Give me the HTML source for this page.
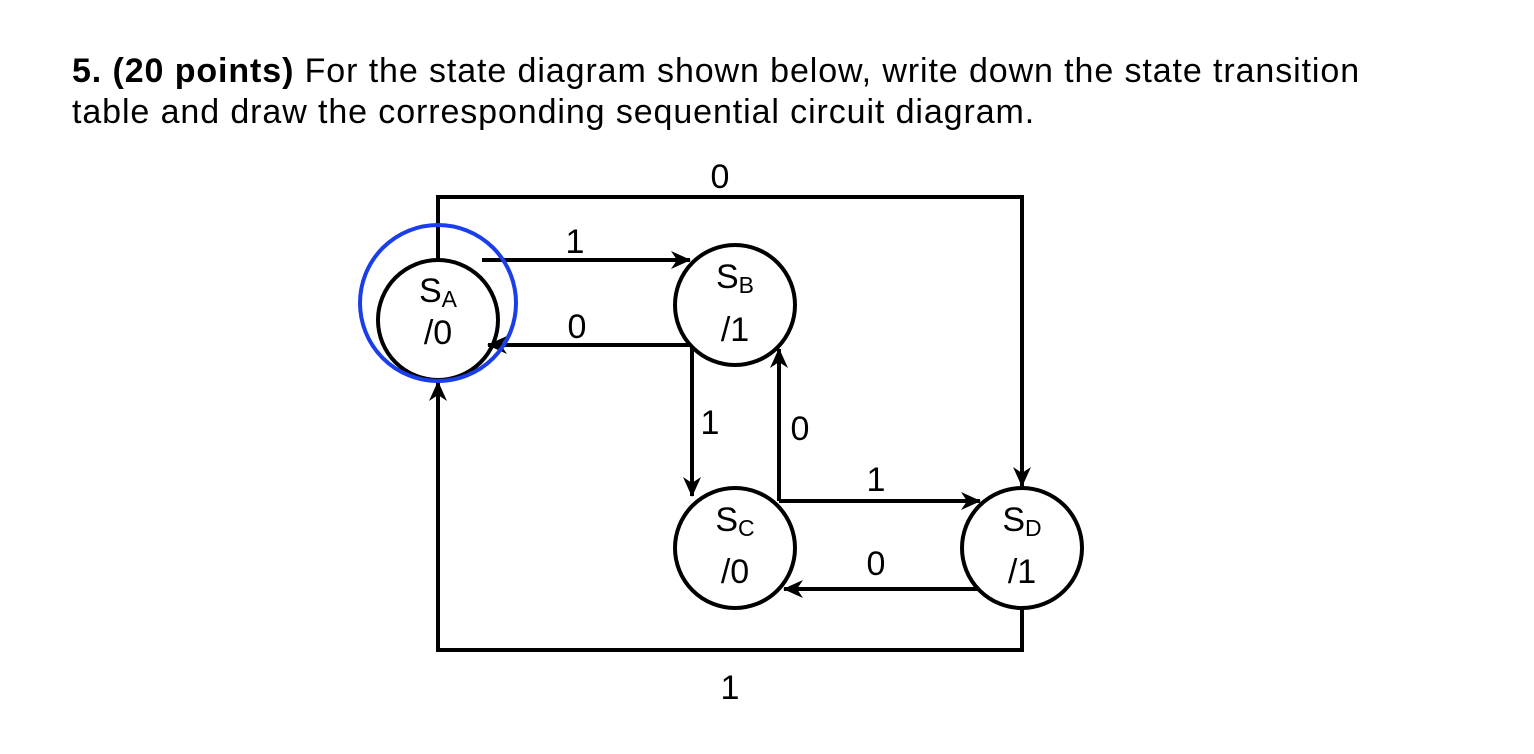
<!DOCTYPE html>
<html><head><style>
body{margin:0;width:1534px;height:754px;background:#fff;overflow:hidden;font-family:"Liberation Sans",sans-serif}
.t{position:absolute;left:72px;font-size:34px;letter-spacing:0.9px;color:#000;line-height:41px;white-space:nowrap}
</style></head><body>
<div class="t" style="top:51px"><b>5. (20 points)</b> For the state diagram shown below, write down the state transition</div>
<div class="t" style="top:92px">table and draw the corresponding sequential circuit diagram.</div>
<svg width="1534" height="754" style="position:absolute;left:0;top:0">
<defs><marker id="a" markerWidth="22" markerHeight="18" refX="19" refY="9" orient="auto" markerUnits="userSpaceOnUse"><path d="M0,0 L20,9 L0,18 L6,9 Z" fill="#000"/></marker></defs>
<g stroke="#000" stroke-width="4" fill="none">
<polyline points="438,260 438,197 1022,197 1022,486" marker-end="url(#a)"/>
<polyline points="1022,608 1022,650 438,650 438,382" marker-end="url(#a)"/>
<line x1="482" y1="260" x2="690" y2="260" marker-end="url(#a)"/>
<line x1="692" y1="345" x2="488" y2="345" marker-end="url(#a)"/>
<line x1="692" y1="345" x2="692" y2="496" marker-end="url(#a)"/>
<line x1="779" y1="501" x2="779" y2="349" marker-end="url(#a)"/>
<line x1="779" y1="501" x2="980" y2="501" marker-end="url(#a)"/>
<line x1="980" y1="589" x2="784" y2="589" marker-end="url(#a)"/>
<circle cx="438" cy="320" r="60" fill="none"/>
<circle cx="735" cy="305" r="60" fill="#fff"/>
<circle cx="735" cy="548" r="60" fill="#fff"/>
<circle cx="1022" cy="548" r="60" fill="#fff"/>
</g>
<circle cx="438" cy="303" r="78" stroke="#1a3ee8" stroke-width="4" fill="none"/>
<g font-family="Liberation Sans,sans-serif" font-size="34" text-anchor="middle" fill="#000">
<text x="720" y="188">0</text><text x="575" y="253">1</text><text x="577" y="338">0</text>
<text x="710" y="434">1</text><text x="800" y="440">0</text><text x="876" y="491">1</text>
<text x="876" y="575">0</text><text x="730" y="699">1</text>
<text x="438" y="302">S<tspan font-size="23" dy="5">A</tspan></text><text x="438" y="344">/0</text>
<text x="735" y="288">S<tspan font-size="23" dy="5">B</tspan></text><text x="735" y="341">/1</text>
<text x="735" y="531">S<tspan font-size="23" dy="5">C</tspan></text><text x="735" y="583">/0</text>
<text x="1022" y="531">S<tspan font-size="23" dy="5">D</tspan></text><text x="1022" y="583">/1</text>
</g>
</svg>
</body></html>
